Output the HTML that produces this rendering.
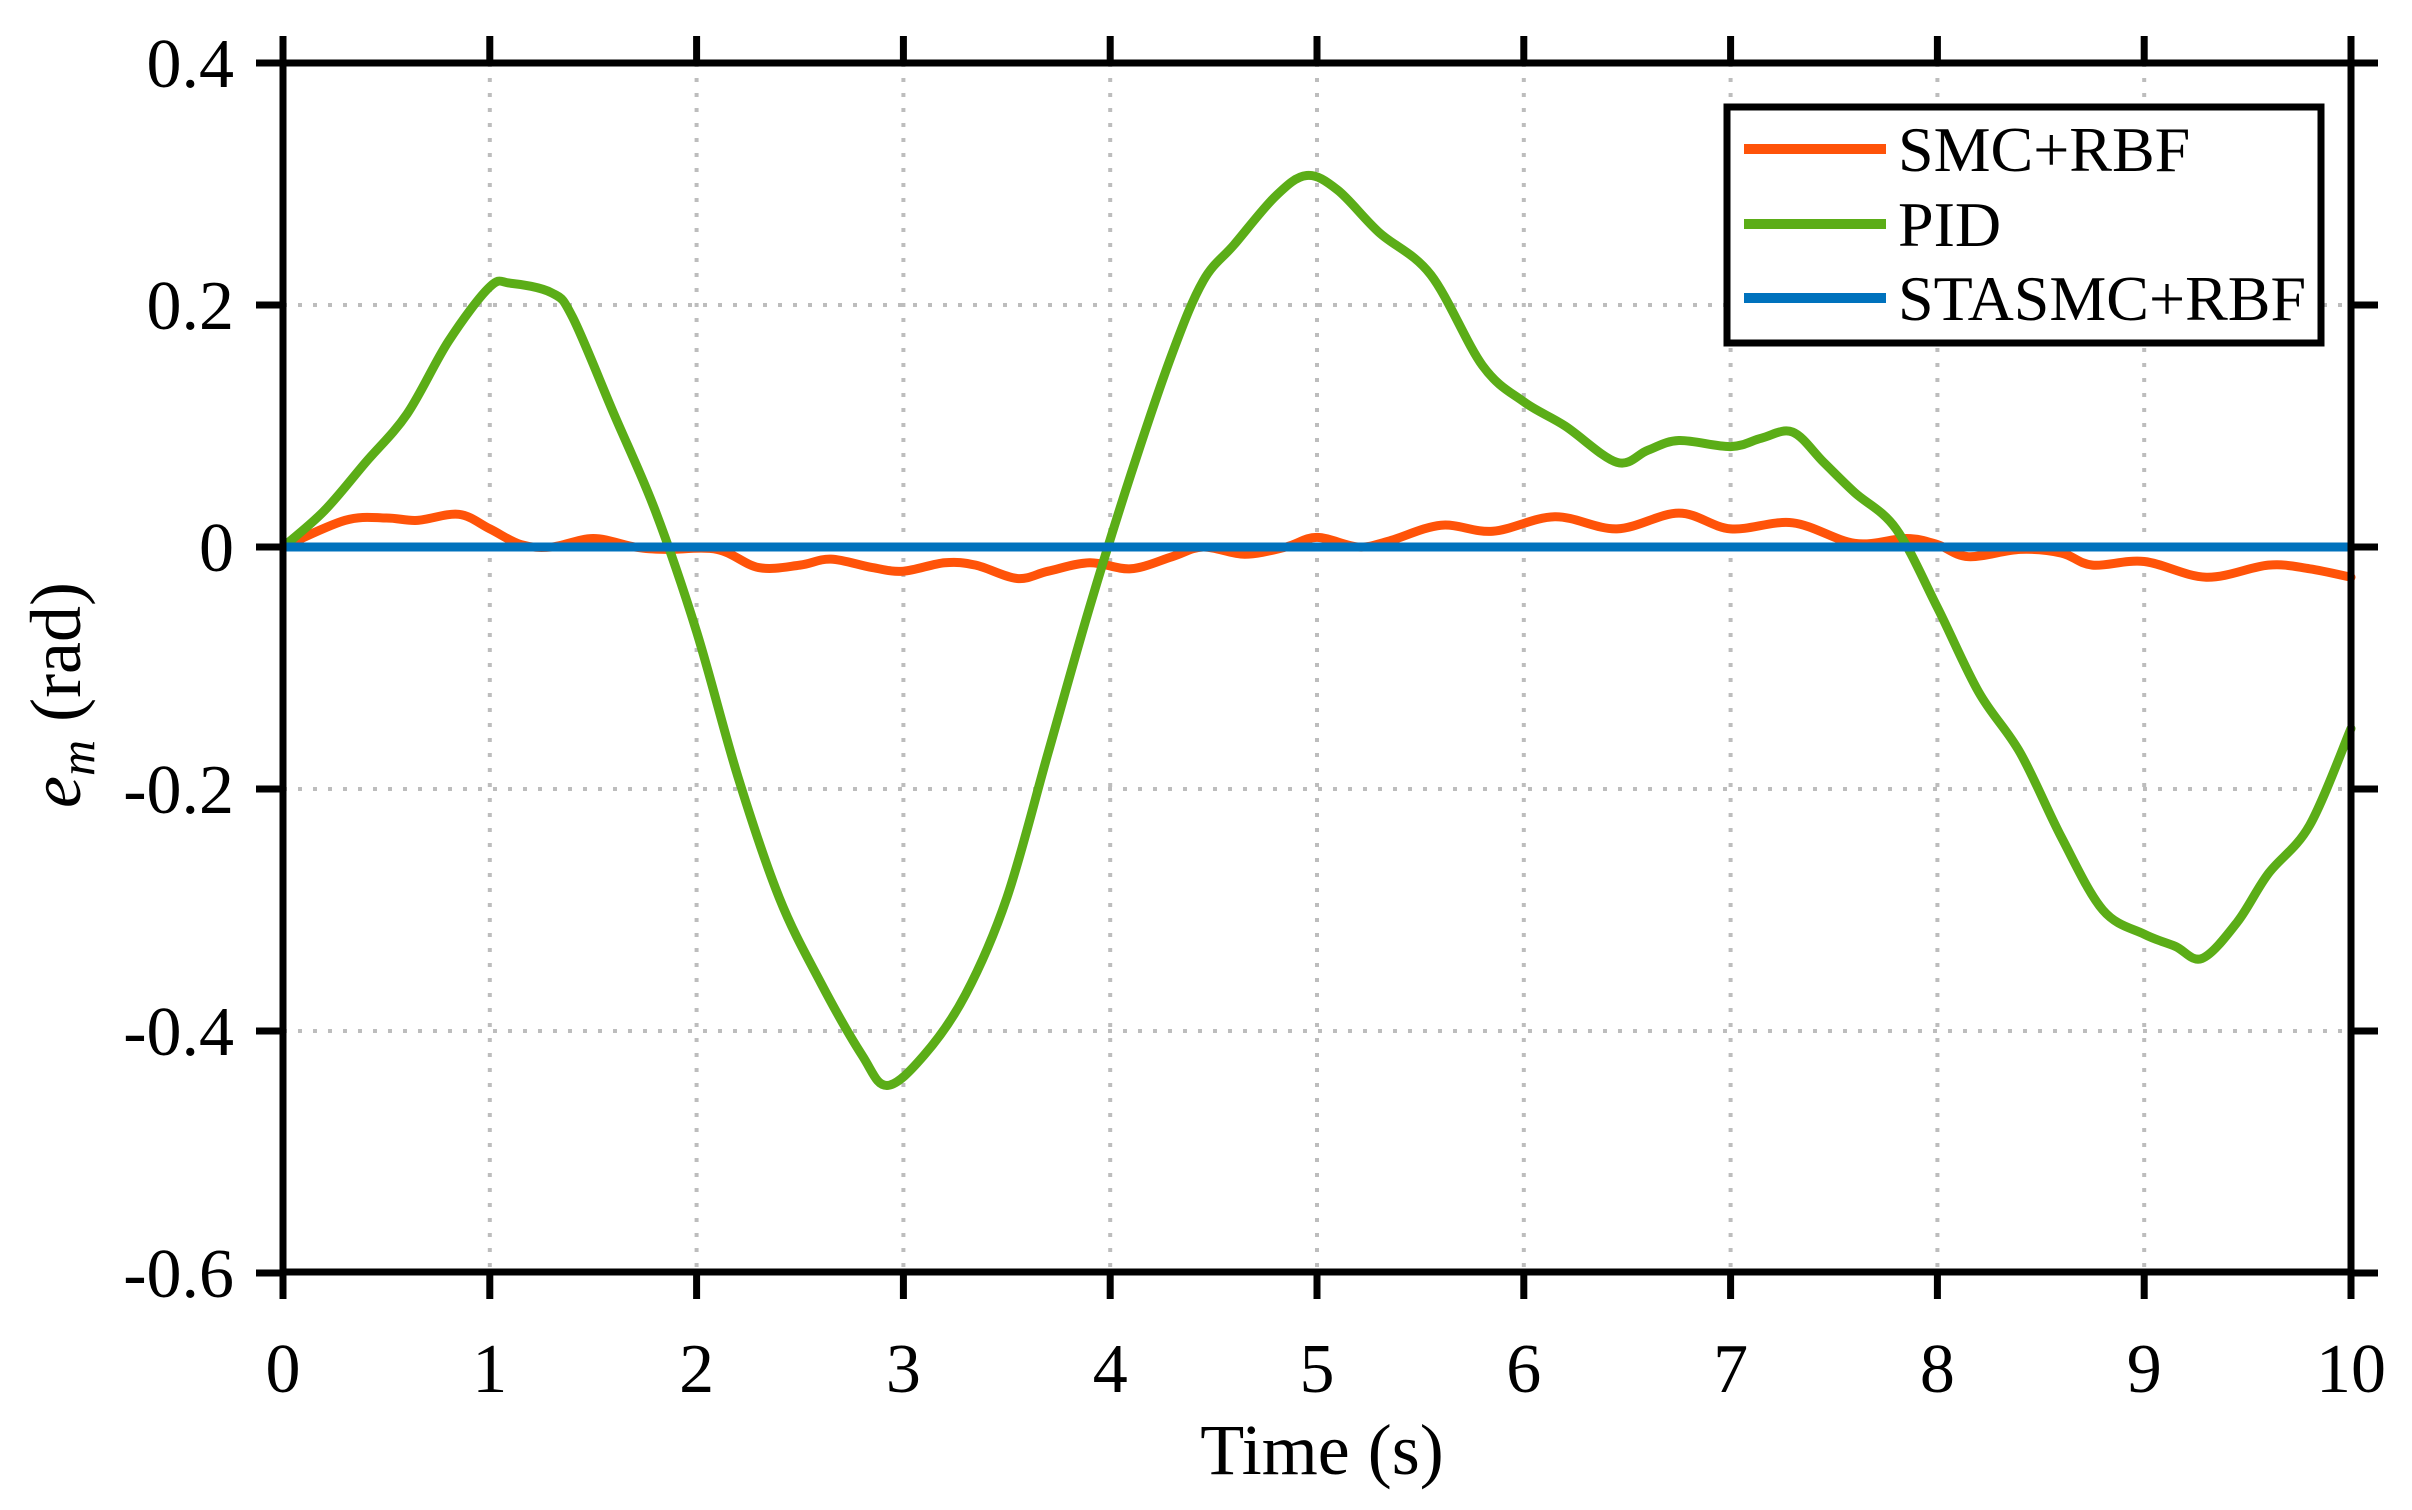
<!DOCTYPE html>
<html><head><meta charset="utf-8"><style>
html,body{margin:0;padding:0;background:#fff;}
svg{display:block;font-family:"Liberation Serif",serif;}
</style></head><body>
<svg id="s" width="2412" height="1510" viewBox="0 0 2412 1510" xmlns="http://www.w3.org/2000/svg">
<g id="grid" stroke="#bdbdbd" stroke-width="4" stroke-dasharray="4 11"></g>
<g id="series" fill="none" stroke-linejoin="round" stroke-linecap="round"></g>
<g id="axes" stroke="#000" stroke-width="7" fill="none"></g>
<g id="labels" font-size="70" fill="#000"></g>
<text x="1322" y="1474" font-size="72" text-anchor="middle">Time (s)</text>
<text transform="translate(80,695) rotate(-90)" font-size="72" text-anchor="middle"><tspan font-style="italic">e</tspan><tspan font-style="italic" font-size="50" dy="14">m</tspan><tspan dy="-14"> (rad)</tspan></text>
<rect x="1727" y="107" width="594" height="236" fill="#fff" stroke="#000" stroke-width="7"/>
<line x1="1744" y1="149" x2="1886" y2="149" stroke="#FF5309" stroke-width="10"/>
<line x1="1744" y1="224" x2="1886" y2="224" stroke="#5BAD17" stroke-width="10"/>
<line x1="1744" y1="298" x2="1886" y2="298" stroke="#0072BD" stroke-width="10"/>
<text x="1898" y="171" font-size="64">SMC+RBF</text>
<text x="1898" y="246" font-size="64">PID</text>
<text x="1898" y="320" font-size="64">STASMC+RBF</text>
</svg>
<script>
var X=function(t){return 283+206.8*t},Y=function(v){return 547-1210*v};
var NS="http://www.w3.org/2000/svg";
function el(p,n,a){var e=document.createElementNS(NS,n);for(var k in a)e.setAttribute(k,a[k]);document.getElementById(p).appendChild(e);return e;}
for(var i=1;i<10;i++)el("grid","line",{x1:X(i),y1:63,x2:X(i),y2:1272});
[0.2,-0.2,-0.4].forEach(function(v){el("grid","line",{x1:283,y1:Y(v),x2:2351,y2:Y(v)});});
function path(pts){var d="M"+X(pts[0][0])+","+Y(pts[0][1]);
for(var i=0;i<pts.length-1;i++){var p0=pts[Math.max(0,i-1)],p1=pts[i],p2=pts[i+1],p3=pts[Math.min(pts.length-1,i+2)];
var a=[X(p1[0])+(X(p2[0])-X(p0[0]))/6,Y(p1[1])+(Y(p2[1])-Y(p0[1]))/6],b=[X(p2[0])-(X(p3[0])-X(p1[0]))/6,Y(p2[1])-(Y(p3[1])-Y(p1[1]))/6];
d+=" C"+a[0]+","+a[1]+" "+b[0]+","+b[1]+" "+X(p2[0])+","+Y(p2[1]);}return d;}
var smc=[[0,0],[0.3,0.022],[0.5,0.024],[0.65,0.022],[0.85,0.027],[1.0,0.015],[1.15,0.002],[1.3,0],[1.5,0.007],[1.7,0],[1.85,-0.002],[2.1,-0.002],[2.3,-0.017],[2.5,-0.015],[2.65,-0.01],[2.85,-0.017],[3.0,-0.02],[3.2,-0.013],[3.35,-0.015],[3.55,-0.026],[3.7,-0.02],[3.9,-0.013],[4.1,-0.018],[4.3,-0.008],[4.45,0],[4.65,-0.006],[4.85,0],[5.0,0.008],[5.2,0],[5.35,0.005],[5.6,0.018],[5.85,0.013],[6.15,0.025],[6.45,0.015],[6.75,0.028],[7.0,0.015],[7.3,0.02],[7.6,0.003],[7.85,0.007],[8.0,0.002],[8.15,-0.008],[8.4,-0.002],[8.6,-0.005],[8.75,-0.015],[9.0,-0.012],[9.3,-0.025],[9.6,-0.015],[9.8,-0.018],[10,-0.025]];
var pid=[[0,0],[0.2,0.03],[0.4,0.07],[0.6,0.11],[0.8,0.17],[1.0,0.215],[1.1,0.218],[1.3,0.21],[1.4,0.19],[1.6,0.11],[1.8,0.03],[2.0,-0.07],[2.2,-0.19],[2.4,-0.29],[2.6,-0.36],[2.8,-0.42],[2.92,-0.445],[3.1,-0.42],[3.3,-0.37],[3.5,-0.29],[3.7,-0.17],[3.9,-0.05],[4.1,0.06],[4.3,0.16],[4.45,0.22],[4.6,0.25],[4.8,0.29],[4.95,0.307],[5.1,0.295],[5.3,0.26],[5.55,0.225],[5.8,0.15],[6.0,0.12],[6.2,0.1],[6.45,0.07],[6.6,0.08],[6.75,0.088],[7.0,0.083],[7.15,0.09],[7.3,0.095],[7.45,0.07],[7.6,0.045],[7.8,0.015],[8.0,-0.05],[8.2,-0.12],[8.4,-0.17],[8.6,-0.24],[8.8,-0.3],[9.0,-0.32],[9.15,-0.33],[9.28,-0.34],[9.45,-0.31],[9.6,-0.27],[9.8,-0.23],[10,-0.15]];
el("series","path",{d:path(smc),stroke:"#FF5309","stroke-width":9});
el("series","path",{d:path(pid),stroke:"#5BAD17","stroke-width":9});
el("series","path",{d:"M283,547 L2351,547",stroke:"#0072BD","stroke-width":9});
el("axes","rect",{x:283,y:63,width:2068,height:1209});
for(var i=0;i<=10;i++){el("axes","line",{x1:X(i),y1:63,x2:X(i),y2:36});el("axes","line",{x1:X(i),y1:1272,x2:X(i),y2:1299});
var t=el("labels","text",{x:X(i),y:1392,"text-anchor":"middle"});t.textContent=i;}
[0.4,0.2,0,-0.2,-0.4,-0.6].forEach(function(v){el("axes","line",{x1:283,y1:Y(v),x2:256,y2:Y(v)});el("axes","line",{x1:2351,y1:Y(v),x2:2378,y2:Y(v)});
var t=el("labels","text",{x:234,y:Y(v)+24,"text-anchor":"end"});t.textContent=v==0?"0":(v<0?"-":"")+Math.abs(v).toFixed(1);});
</script>
</body></html>
